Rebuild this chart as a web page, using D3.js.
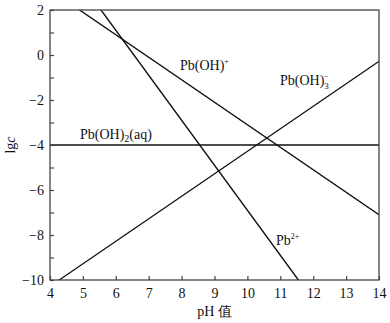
<!DOCTYPE html>
<html><head><meta charset="utf-8">
<script src="https://cdn.jsdelivr.net/npm/d3@7"></script>
<style>body{margin:0;background:#fff}svg{display:block}text{font-family:"Liberation Serif","DejaVu Serif",serif;fill:#111}</style>
</head><body>
<script>
const xTicks = [4,5,6,7,8,9,10,11,12,13,14];
const yTicks = [2,0,-2,-4,-6,-8,-10];
const yMinor = [1,-1,-3,-5,-7,-9];
// Lines: lg c = a + b*pH
const seriesNames = ["Pb2+","Pb(OH)+","Pb(OH)2(aq)","Pb(OH)3-"];
const intercepts = [13.1, 6.9, -4, -14.28];
const slopes = [-2, -1, 0, 1];

const W=390,H=323;
const m={l:50,r:11,t:10,b:43};
const svg=d3.select("body").append("svg").attr("width",W).attr("height",H);
const x=d3.scaleLinear().domain([4,14]).range([m.l,W-m.r]);
const y=d3.scaleLinear().domain([-10,2]).range([H-m.b,m.t]);

svg.append("clipPath").attr("id","c").append("rect")
  .attr("x",x(4)).attr("y",y(2)).attr("width",x(14)-x(4)).attr("height",y(-10)-y(2));

const g=svg.append("g").attr("clip-path","url(#c)");
const pts=d3.range(4,14.001,0.05);
seriesNames.forEach((n,i)=>{
  g.append("path").datum(pts.map(p=>[p,intercepts[i]+slopes[i]*p]))
   .attr("d",d3.line().x(d=>x(d[0])).y(d=>y(d[1])))
   .attr("fill","none").attr("stroke","#111").attr("stroke-width",1.3);
});

// frame
svg.append("rect").attr("x",x(4)).attr("y",y(2)).attr("width",x(14)-x(4)).attr("height",y(-10)-y(2))
  .attr("fill","none").attr("stroke","#444").attr("stroke-width",1.3);

svg.append("g").attr("transform",`translate(0,${y(-10)})`)
  .call(d3.axisBottom(x).tickValues(xTicks).tickSizeInner(-4).tickSizeOuter(0).tickPadding(8));
svg.append("g").attr("transform",`translate(${x(4)},0)`)
  .call(d3.axisLeft(y).tickValues(yTicks).tickSizeInner(-4).tickSizeOuter(0).tickPadding(6).tickFormat(d=>d<0?"\u2212"+Math.abs(d):d));
svg.append("g").attr("transform",`translate(${x(4)},0)`)
  .call(d3.axisLeft(y).tickValues(yMinor).tickSizeInner(-4).tickSizeOuter(0).tickFormat(""));
svg.selectAll(".domain").remove();
svg.selectAll(".tick line").attr("stroke","#444").attr("stroke-width",1.2);
svg.selectAll(".tick text").style("font-size","14px").attr("fill","#1a1a3a");

// labels
{
  const t=svg.append("text").attr("x",180).attr("y",70).style("font-size","14px");
  t.append("tspan").text("Pb(OH)");
  t.append("tspan").text("+").attr("dy",-6).style("font-size","8px");
}
{
  const t=svg.append("text").attr("x",280).attr("y",85).style("font-size","14px");
  t.append("tspan").text("Pb(OH)");
  t.append("tspan").text("3").attr("dy",4).style("font-size","9px");
  t.append("tspan").text("\u2212").attr("dx",-5).attr("dy",-10).style("font-size","8px");
}
{
  const t=svg.append("text").attr("x",80).attr("y",139).style("font-size","14px");
  t.append("tspan").text("Pb(OH)");
  t.append("tspan").text("2").attr("dy",3).style("font-size","10px");
  t.append("tspan").text("(aq)").attr("dy",-3);
}
{
  const t=svg.append("text").attr("x",276).attr("y",245).style("font-size","14px");
  t.append("tspan").text("Pb");
  t.append("tspan").text("2+").attr("dy",-6).style("font-size","8px");
}

// axis titles
const yl=svg.append("text").attr("transform",`translate(15,${y(-4)}) rotate(-90)`).attr("text-anchor","middle").style("font-size","14px");
yl.append("tspan").text("lg");
yl.append("tspan").text("c").style("font-style","italic");
svg.append("text").attr("x",x(9)).attr("y",316).attr("text-anchor","middle").style("font-size","14px")
  .text("pH 值");
</script>
</body></html>
